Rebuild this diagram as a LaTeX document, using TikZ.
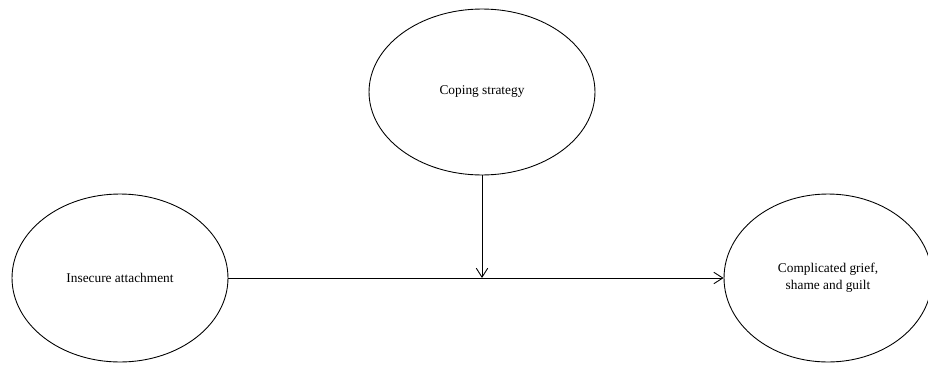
\documentclass[tikz,border=0pt]{standalone}
\usepackage{fontspec}
\setmainfont{Liberation Serif}
\usepackage{tikz}
\usetikzlibrary{shapes.geometric, arrows.meta, positioning}

\begin{document}
\begin{tikzpicture}[
    x=0.02cm, y=-0.02cm,
    factor/.style={ellipse, draw, line width=0.5pt, inner sep=0pt, align=center, font=\fontsize{7.6}{9.7}\selectfont},
    arrow/.style={-{Straight Barb[length=1.8mm, width=2.3mm]}, line width=0.5pt}
]
\useasboundingbox (0,0) rectangle (928,365);

\node[factor, minimum width=4.32cm, minimum height=3.36cm] (attach) at (120,278) {Insecure attachment};
\node[factor, minimum width=4.52cm, minimum height=3.32cm] (coping) at (482,92) {Coping strategy};
\node[factor, minimum width=4.16cm, minimum height=3.36cm] (grief) at (828,278) {Complicated grief,\\shame and guilt};

\coordinate (mod) at (482,278);

\draw[arrow] (attach) -- (grief);
\draw[arrow] (coping) -- (mod);

\end{tikzpicture}
\end{document}
